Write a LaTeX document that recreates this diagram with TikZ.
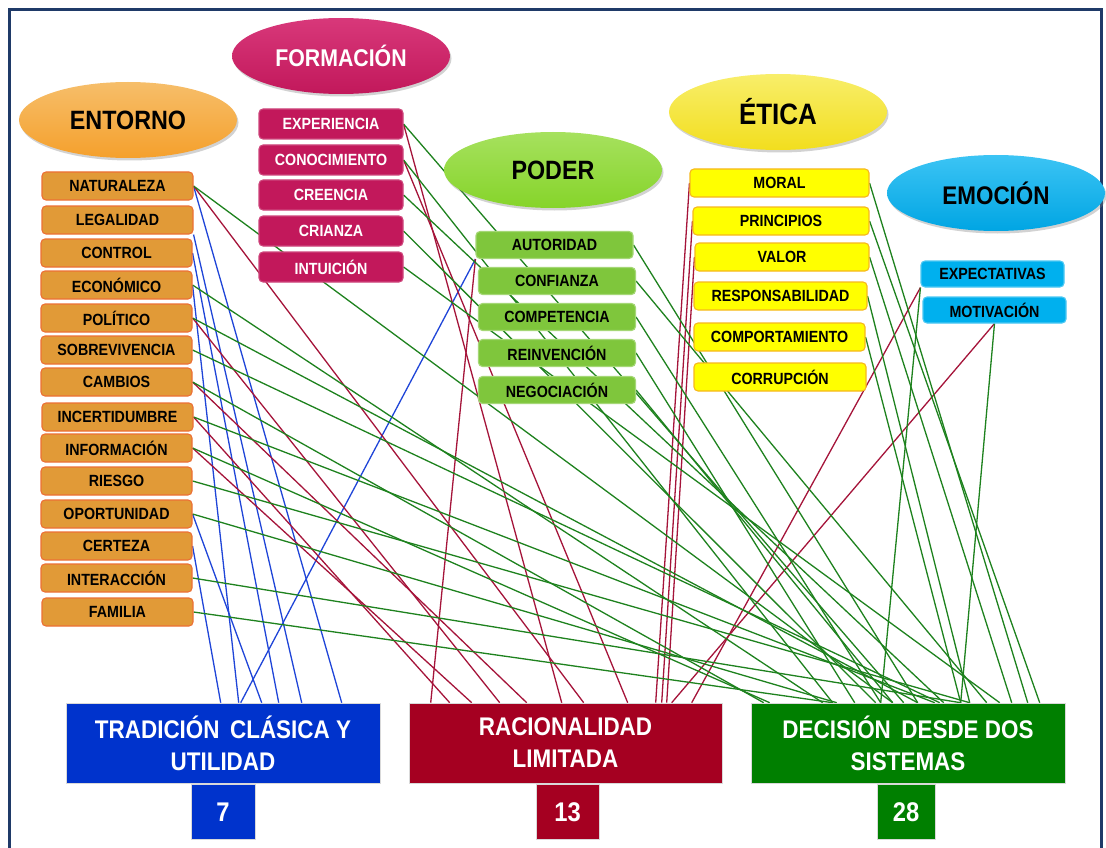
\documentclass[tikz,border=0pt]{standalone}
\usepackage{fontspec}
\setmainfont{Liberation Sans}[FakeStretch=0.88]
\usetikzlibrary{shapes.geometric,shadows,calc}
\definecolor{navy}{HTML}{1F3A68}
\definecolor{entF}{HTML}{E19A37}
\definecolor{entD}{HTML}{EC7035}
\definecolor{entT}{HTML}{F6BE6A}
\definecolor{entB}{HTML}{F5A02C}
\definecolor{forF}{HTML}{C2185B}
\definecolor{forT}{HTML}{D8387A}
\definecolor{podF}{HTML}{7FC63C}
\definecolor{podT}{HTML}{A6E15E}
\definecolor{podB}{HTML}{86D42A}
\definecolor{etiF}{HTML}{FFFF00}
\definecolor{etiD}{HTML}{F7B81C}
\definecolor{etiT}{HTML}{F8EE6A}
\definecolor{etiB}{HTML}{F2DE1E}
\definecolor{emoF}{HTML}{00B0EE}
\definecolor{emoT}{HTML}{3CC4F4}
\definecolor{emoB}{HTML}{00A5E3}
\definecolor{lblue}{HTML}{1F45D8}
\definecolor{lred}{HTML}{A5143A}
\definecolor{lgreen}{HTML}{1E821E}
\definecolor{tradF}{HTML}{0033CC}
\definecolor{racF}{HTML}{A50021}
\definecolor{decF}{HTML}{007F00}
\pgfdeclarelayer{back}
\pgfdeclarelayer{lines}
\pgfsetlayers{back,lines,main}
\begin{document}
\begin{tikzpicture}[x=1pt,y=-1pt,
  ell/.style={ellipse, minimum width=218pt, minimum height=76pt, inner sep=0pt,
    font=\fontsize{25.5}{25.5}\selectfont\bfseries,
    drop shadow={opacity=0.35, shadow xshift=1.5pt, shadow yshift=-2.5pt}},
  bx/.style={rectangle, rounded corners=4pt, inner sep=0pt, line width=1.1pt,
    font=\fontsize{16.2}{16.2}\selectfont\bfseries},
  ebox/.style={bx, fill=entF, draw=entD, minimum width=151pt, minimum height=28pt},
  fbox/.style={bx, fill=forF, draw=forF!80!white, text=white, minimum width=144pt, minimum height=30pt},
  pbox/.style={bx, fill=podF, draw=podF!70!white, minimum width=157pt, minimum height=27pt},
  tbox/.style={bx, fill=etiF, draw=etiD, minimum width=176pt, minimum height=28pt},
  mbox/.style={bx, fill=emoF, draw=emoF!70!white, minimum width=143pt, minimum height=26pt},
  big/.style={rectangle, inner sep=0pt, text=white, align=center, draw=white!70!gray, line width=0.6pt,
    font=\fontsize{25.5}{32}\selectfont\bfseries, minimum width=314pt, minimum height=80pt},
  num/.style={rectangle, inner sep=0pt, text=white, draw=white!70!gray, line width=0.6pt,
    font=\fontsize{27}{27}\selectfont\bfseries, minimum height=55pt},
  bl/.style={draw=lblue, line width=1.3pt},
  rd/.style={draw=lred, line width=1.3pt},
  gr/.style={draw=lgreen, line width=1.3pt}
]
\useasboundingbox (0,0) rectangle (1106,848);
\begin{pgfonlayer}{back}
\fill[white] (0,0) rectangle (1106,848);
\draw[navy, line width=3pt] (9,10) rectangle (1101,880);
\end{pgfonlayer}

% headings
\node[ell, top color=entT, bottom color=entB, font=\fontsize{26.5}{26.5}\selectfont\bfseries] (entorno) at (128,120) {ENTORNO};
\node[ell, top color=forT, bottom color=forF, text=white, font=\fontsize{24.2}{24.2}\selectfont\bfseries] (formacion) at (341,56) {FORMACIÓN};
\node[ell, top color=podT, bottom color=podB, font=\fontsize{26.5}{26.5}\selectfont\bfseries] (poder) at (553,170) {PODER};
\node[ell, top color=etiT, bottom color=etiB, font=\fontsize{29.5}{29.5}\selectfont\bfseries] (etica) at (778,112) {ÉTICA};
\node[ell, top color=emoT, bottom color=emoB] (emocion) at (996,193) {EMOCIÓN};

% ENTORNO items
\node[ebox] (nat) at (117.5,186) {NATURALEZA};
\node[ebox] (leg) at (117.5,220) {LEGALIDAD};
\node[ebox] (con) at (116.5,253) {CONTROL};
\node[ebox] (eco) at (116.5,285) {ECONÓMICO};
\node[ebox] (pol) at (116.5,318) {POLÍTICO};
\node[ebox] (sob) at (116.5,350) {SOBREVIVENCIA};
\node[ebox] (cam) at (116.5,382) {CAMBIOS};
\node[ebox] (inc) at (117.5,417) {INCERTIDUMBRE};
\node[ebox] (inf) at (116.5,448) {INFORMACIÓN};
\node[ebox] (rie) at (116.5,481) {RIESGO};
\node[ebox] (opo) at (116.5,514) {OPORTUNIDAD};
\node[ebox] (cer) at (116.5,546) {CERTEZA};
\node[ebox] (int) at (116.5,578) {INTERACCIÓN};
\node[ebox] (fam) at (117.5,612) {FAMILIA};

% FORMACION items
\node[fbox] (exp) at (331,124) {EXPERIENCIA};
\node[fbox] (cno) at (331,160) {CONOCIMIENTO};
\node[fbox] (cre) at (331,195) {CREENCIA};
\node[fbox] (cri) at (331,231) {CRIANZA};
\node[fbox] (intu) at (331,267) {INTUICIÓN};

% PODER items
\node[pbox] (aut) at (554.5,245) {AUTORIDAD};
\node[pbox] (cnf) at (557,281) {CONFIANZA};
\node[pbox] (com) at (557,317) {COMPETENCIA};
\node[pbox] (rei) at (557,353) {REINVENCIÓN};
\node[pbox] (neg) at (557,390) {NEGOCIACIÓN};

% ETICA items
\node[tbox, minimum width=179pt] (mor) at (779.5,183) {MORAL};
\node[tbox] (pri) at (781,221) {PRINCIPIOS};
\node[tbox, minimum width=174pt] (val) at (782,257) {VALOR};
\node[tbox, minimum width=173pt] (res) at (780.5,296) {RESPONSABILIDAD};
\node[tbox, minimum width=171pt] (cmp) at (779.5,337) {COMPORTAMIENTO};
\node[tbox, minimum width=172pt] (cor) at (780,377) {CORRUPCIÓN};

% EMOCION items
\node[mbox] (xpe) at (992.5,274) {EXPECTATIVAS};
\node[mbox] (mot) at (994.5,310) {MOTIVACIÓN};

% bottom boxes
\node[big, fill=tradF] (trad) at (223,743) {TRADICIÓN\, CLÁSICA Y\\UTILIDAD};
\node[big, fill=racF, minimum width=313pt] (rac) at (565.5,743) {RACIONALIDAD\\LIMITADA};
\node[big, fill=decF] (dec) at (908,743) {DECISIÓN\, DESDE DOS\\SISTEMAS};
\node[num, fill=tradF, minimum width=64pt] (n7) at (223,812) {7};
\node[num, fill=racF, minimum width=63pt] (n13) at (567.5,812) {13};
\node[num, fill=decF, minimum width=58pt] (n28) at (906,812) {28};

\begin{pgfonlayer}{lines}
% blue: tradicion clasica (7)
\draw[bl] (nat.east) -- ($(trad.north west)+(276,0)$);
\draw[bl] (leg.south east) -- ($(trad.north west)+(236,0)$);
\draw[bl] (con.east) -- ($(trad.north west)+(213,0)$);
\draw[bl] (eco.east) -- ($(trad.north west)+(173,0)$);
\draw[bl] (opo.east) -- ($(trad.north west)+(196,0)$);
\draw[bl] (cer.east) -- ($(trad.north west)+(155,0)$);
\draw[bl] (aut.south west) -- ($(trad.north west)+(175,0)$);
% red: racionalidad limitada (13)
\draw[rd] (nat.east) -- ($(rac.north west)+(175,0)$);
\draw[rd] (pol.east) -- ($(rac.north west)+(91,0)$);
\draw[rd] (cam.east) -- ($(rac.north west)+(118,0)$);
\draw[rd] (inc.east) -- ($(rac.north west)+(41,0)$);
\draw[rd] (inf.east) -- ($(rac.north west)+(63,0)$);
\draw[rd] (exp.east) -- ($(rac.north west)+(153,0)$);
\draw[rd] (cno.east) -- ($(rac.north west)+(219,0)$);
\draw[rd] (aut.south west) -- ($(rac.north west)+(22,0)$);
\draw[rd] (mor.west) -- ($(rac.north west)+(247,0)$);
\draw[rd] (pri.west) -- ($(rac.north west)+(253,0)$);
\draw[rd] (val.west) -- ($(rac.north west)+(258,0)$);
\draw[rd] (xpe.south west) -- ($(rac.north west)+(283,0)$);
\draw[rd] (mot.south) -- ($(rac.north west)+(263,0)$);
% green: decision desde dos sistemas (28)
\draw[gr] (nat.east) -- ($(dec.north west)+(142,0)$);
\draw[gr] (eco.east) -- ($(dec.north west)+(72,0)$);
\draw[gr] (pol.east) -- ($(dec.north west)+(167,0)$);
\draw[gr] (sob.east) -- ($(dec.north west)+(189,0)$);
\draw[gr] (cam.east) -- ($(dec.north west)+(13,0)$);
\draw[gr] (inc.east) -- ($(dec.north west)+(184,0)$);
\draw[gr] (inf.east) -- ($(dec.north west)+(19,0)$);
\draw[gr] (rie.east) -- ($(dec.north west)+(219,0)$);
\draw[gr] (opo.east) -- ($(dec.north west)+(86,0)$);
\draw[gr] (int.east) -- ($(dec.north west)+(210,0)$);
\draw[gr] (fam.east) -- ($(dec.north west)+(82,0)$);
\draw[gr] (exp.east) -- ($(dec.north west)+(153,0)$);
\draw[gr] (cno.east) -- ($(dec.north west)+(82,0)$);
\draw[gr] (cre.east) -- ($(dec.north west)+(193,0)$);
\draw[gr] (cri.east) -- ($(dec.north west)+(125,0)$);
\draw[gr] (intu.east) -- ($(dec.north west)+(249,0)$);
\draw[gr] (aut.east) -- ($(dec.north west)+(167,0)$);
\draw[gr] (cnf.east) -- ($(dec.north west)+(236,0)$);
\draw[gr] (com.east) -- ($(dec.north west)+(130,0)$);
\draw[gr] (rei.east) -- ($(dec.north west)+(104,0)$);
\draw[gr] (neg.east) -- ($(dec.north west)+(142,0)$);
\draw[gr] (mor.east) -- ($(dec.north west)+(277,0)$);
\draw[gr] (pri.east) -- ($(dec.north west)+(289,0)$);
\draw[gr] (val.east) -- ($(dec.north west)+(261,0)$);
\draw[gr] (res.east) -- ($(dec.north west)+(219,0)$);
\draw[gr] (cmp.east) -- ($(dec.north west)+(210,0)$);
\draw[gr] (xpe.south west) -- ($(dec.north west)+(130,0)$);
\draw[gr] (mot.south) -- ($(dec.north west)+(210,0)$);
\end{pgfonlayer}
\end{tikzpicture}
\end{document}
